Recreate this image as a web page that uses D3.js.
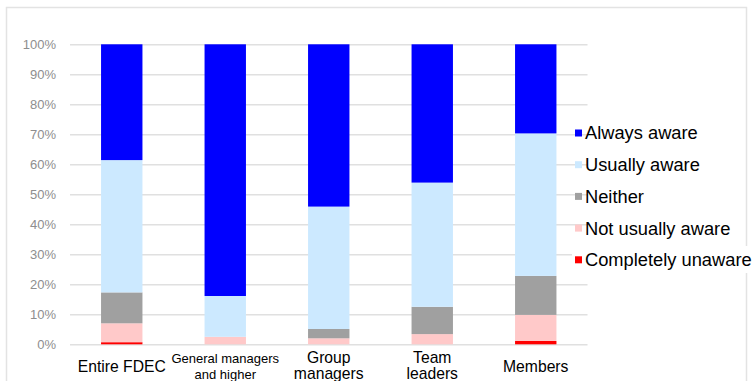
<!DOCTYPE html>
<html>
<head>
<meta charset="utf-8">
<script src="https://cdn.jsdelivr.net/npm/d3@7"></script>
<style>
  html, body { margin: 0; padding: 0; background: #fff; }
  svg { display: block; font-family: "Liberation Sans", Arial, sans-serif; }
</style>
</head>
<body>
<svg id="chart" width="756" height="381"></svg>
<script>
// Survey groups (x-axis), each label split into its display lines
const categories = ["Entire FDEC", "General managers|and higher", "Group|managers", "Team|leaders", "Members"];

// Share of respondents (%) per answer, bottom to top of each stack
const completelyUnaware = [0.7, 0, 0, 0, 1.1];
const notUsuallyAware   = [6.3, 2.5, 2.0, 3.4, 8.7];
const neither           = [10.3, 0, 3.1, 9.1, 13.0];
const usuallyAware      = [44.1, 13.6, 40.8, 41.4, 47.5];
const alwaysAware       = [38.6, 83.9, 54.1, 46.1, 29.7];

const seriesNames = ["Completely unaware", "Not usually aware", "Neither", "Usually aware", "Always aware"];
const seriesValues = [completelyUnaware, notUsuallyAware, neither, usuallyAware, alwaysAware];
const seriesColors = ["#ff0000", "#ffc9c9", "#a0a0a0", "#cce9ff", "#0000ff"];

const yTicks = [0, 10, 20, 30, 40, 50, 60, 70, 80, 90, 100];

const svg = d3.select("#chart");

// outer frame
svg.append("rect")
  .attr("x", 6.5).attr("y", 7.5)
  .attr("width", 740).attr("height", 390)
  .attr("fill", "none").attr("stroke", "#e3e3e3").attr("stroke-width", 1.5);

const x = d3.scaleBand()
  .domain(categories)
  .range([70, 587.5])
  .paddingInner(0.6)
  .paddingOuter(0.3);

const y = d3.scaleLinear().domain([0, 100]).range([344.3, 44.3]);

// gridlines + percentage labels
const yAxis = d3.axisLeft(y)
  .tickValues(yTicks)
  .tickSize(-(587.5 - 70))
  .tickPadding(14)
  .tickFormat(d => d + "%");

const gy = svg.append("g").attr("transform", "translate(70,0)").call(yAxis);
gy.select(".domain").remove();
gy.selectAll(".tick line").attr("stroke", "#e0e0e0").attr("stroke-width", 1.5);
gy.selectAll(".tick text")
  .attr("fill", "#8e8e8e")
  .attr("font-size", 13)
  .attr("font-family", "Liberation Sans, Arial, sans-serif");

// stacked data
const rows = categories.map((c, i) => {
  const r = { category: c };
  seriesNames.forEach((s, k) => { r[s] = seriesValues[k][i]; });
  return r;
});
const stacked = d3.stack().keys(seriesNames)(rows);

svg.append("g").selectAll("g")
  .data(stacked)
  .join("g")
  .attr("fill", (d, i) => seriesColors[i])
  .selectAll("rect")
  .data(d => d)
  .join("rect")
  .attr("x", d => x(d.data.category))
  .attr("width", x.bandwidth())
  .attr("y", d => y(d[1]))
  .attr("height", d => y(d[0]) - y(d[1]));

// category labels
const xLabels = svg.append("g");
categories.forEach(c => {
  const lines = c.split("|");
  const longest = d3.max(lines, l => l.length);
  const size = longest > 12 ? 13 : 15.7;
  const cx = x(c) + x.bandwidth() / 2;
  const t = xLabels.append("text")
    .attr("text-anchor", "middle")
    .attr("font-size", size)
    .attr("fill", "#000");
  if (lines.length === 1) {
    t.append("tspan").attr("x", cx).attr("y", 372).text(lines[0]);
  } else {
    lines.forEach((l, j) => {
      t.append("tspan").attr("x", cx).attr("y", 363 + j * 16).text(l);
    });
  }
});

// legend, top entry first
const legendOrder = seriesNames.map((n, i) => ({ name: n, color: seriesColors[i] })).reverse();
const legend = svg.append("g");
legend.append("rect")
  .attr("x", 572).attr("y", 246).attr("width", 184).attr("height", 27)
  .attr("fill", "#fff");
legendOrder.forEach((d, i) => {
  const cy = 133 + i * 31.7;
  legend.append("rect")
    .attr("x", 575).attr("y", cy - 3.5)
    .attr("width", 7).attr("height", 7)
    .attr("fill", d.color);
  legend.append("text")
    .attr("x", 585).attr("y", cy)
    .attr("dy", "0.35em")
    .attr("font-size", 18.3)
    .attr("fill", "#000")
    .text(d.name);
});
</script>
</body>
</html>
